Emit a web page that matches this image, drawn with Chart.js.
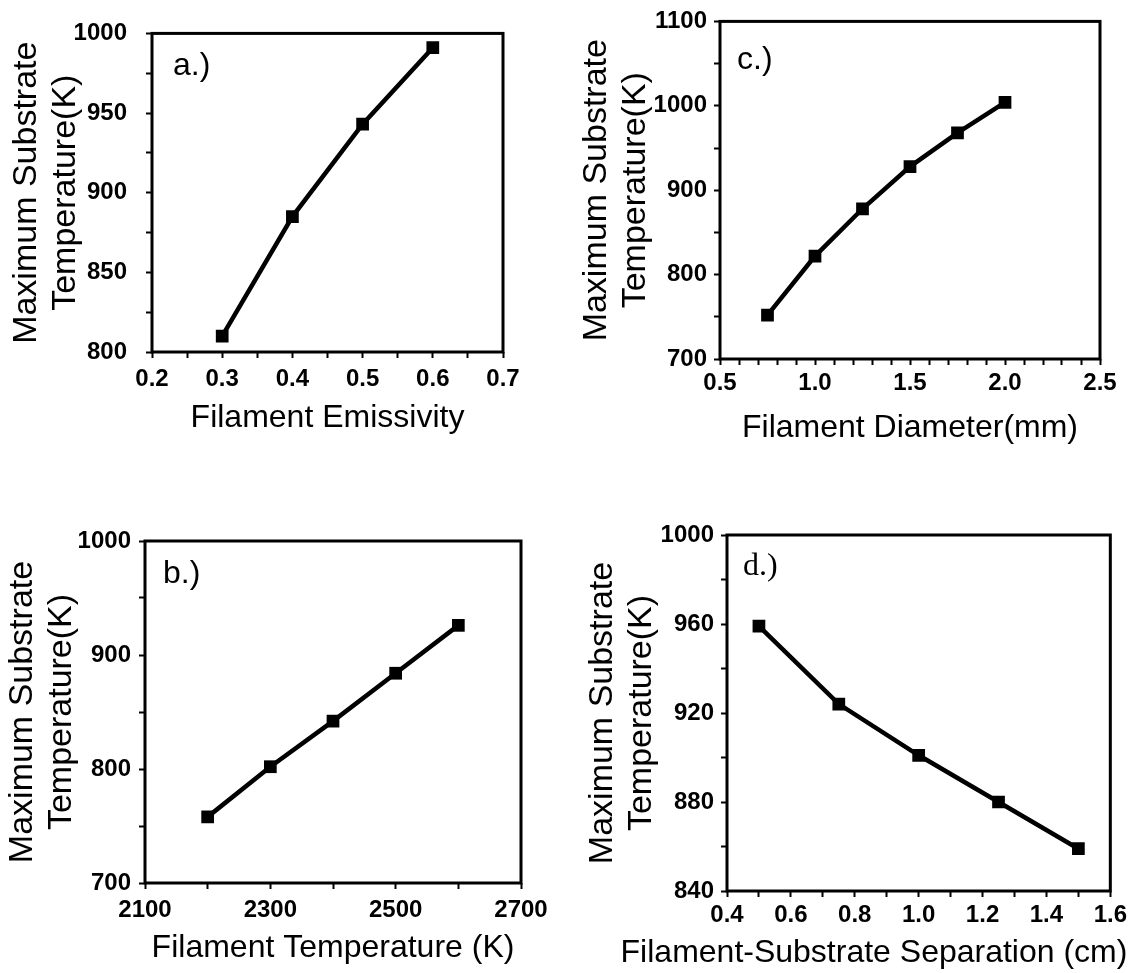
<!DOCTYPE html>
<html>
<head>
<meta charset="utf-8">
<script src="https://cdn.jsdelivr.net/npm/chart.js@4"></script>
<style>
  body { margin: 0; background: #fff; width: 1131px; height: 973px; position: relative; overflow: hidden; }
  canvas { position: absolute; }
</style>
</head>
<body>
<canvas id="panelA" width="560" height="470" style="left:0;top:0"></canvas>
<canvas id="panelC" width="561" height="470" style="left:570px;top:0"></canvas>
<canvas id="panelB" width="560" height="493" style="left:0;top:480px"></canvas>
<canvas id="panelD" width="561" height="493" style="left:570px;top:480px"></canvas>
<script>
// a.) emissivity
const emissivity = [0.3, 0.4, 0.5, 0.6];
const tempByEmissivity = [810, 885, 943, 991];
const emissivityTicks = [0.2, 0.3, 0.4, 0.5, 0.6, 0.7];
const tempTicksA = [800, 850, 900, 950, 1000];

// c.) diameter
const diameter = [0.75, 1.0, 1.25, 1.5, 1.75, 2.0];
const tempByDiameter = [752, 822, 878, 928, 968, 1004];
const diameterTicks = [0.5, 1.0, 1.5, 2.0, 2.5];
const tempTicksC = [700, 800, 900, 1000, 1100];

// b.) filament temperature
const filamentTemp = [2200, 2300, 2400, 2500, 2600];
const tempByFilamentTemp = [758, 802, 842, 884, 926];
const filamentTempTicks = [2100, 2300, 2500, 2700];
const tempTicksB = [700, 800, 900, 1000];

// d.) separation
const separation = [0.5, 0.75, 1.0, 1.25, 1.5];
const tempBySeparation = [959, 924, 901, 880, 859];
const separationTicks = [0.4, 0.6, 0.8, 1.0, 1.2, 1.4, 1.6];
const tempTicksD = [840, 880, 920, 960, 1000];

const yTitle = ["Maximum Substrate", "Temperature(K)"];

const SANS = '"Liberation Sans", Arial, Helvetica, sans-serif';
Chart.defaults.font.family = SANS;
Chart.defaults.color = "#000";

const TICK_LEN = 6;
const XTITLE_SIZE = 32;
const YTITLE_SIZE = 34;

function withMinor(majors, n) {
  const step = (majors[1] - majors[0]) / n;
  const count = Math.round((majors[majors.length - 1] - majors[0]) / step);
  const out = [];
  for (let i = 0; i <= count; i++) out.push(+(majors[0] + i * step).toFixed(6));
  return out;
}

function axisTicks(majors, minorN, dec) {
  const all = withMinor(majors, minorN);
  return {
    build: (scale) => { scale.ticks = all.map(v => ({ value: v })); },
    label: (v) => majors.some(m => Math.abs(m - v) < 1e-6) ? Number(v).toFixed(dec) : "",
  };
}

function makePanel(id, p) {
  const canvas = document.getElementById(id);
  const w = canvas.width, h = canvas.height;
  const xt = axisTicks(p.xMajor, p.xMinor, p.xDec);
  const yt = axisTicks(p.yMajor, p.yMinor, 0);
  const manualTitle = p.xTitleX !== undefined;

  const framePlugin = {
    id: "frame",
    afterDraw(chart) {
      const { ctx, chartArea: a } = chart;
      ctx.save();
      ctx.strokeStyle = "#000";
      ctx.lineWidth = 3;
      ctx.strokeRect(a.left, a.top, a.right - a.left, a.bottom - a.top);
      ctx.fillStyle = "#000";
      ctx.font = p.tagFont;
      ctx.textBaseline = "alphabetic";
      ctx.fillText(p.tag, a.left + p.tagDx, a.top + p.tagDy);
      if (manualTitle) {
        // title wider than the plot: Chart.js would squeeze it
        ctx.font = XTITLE_SIZE + "px " + SANS;
        ctx.textAlign = "center";
        ctx.textBaseline = "middle";
        ctx.fillText(p.xTitle, p.xTitleX, p.xTitleY);
      }
      ctx.restore();
    },
  };

  new Chart(canvas, {
    type: "scatter",
    data: {
      datasets: [{
        data: p.xs.map((x, i) => ({ x, y: p.ys[i] })),
        showLine: true,
        borderColor: "#000",
        borderWidth: 4.5,
        pointStyle: "rect",
        pointRadius: 9,
        pointBackgroundColor: "#000",
        pointBorderWidth: 0,
        tension: 0,
      }],
    },
    options: {
      responsive: false,
      animation: false,
      devicePixelRatio: 1,
      layout: { autoPadding: false, padding: { left: 0, top: p.area.top, right: w - p.area.right, bottom: 0 } },
      plugins: { legend: { display: false }, tooltip: { enabled: false } },
      scales: {
        x: {
          type: "linear",
          min: p.xMajor[0],
          max: p.xMajor[p.xMajor.length - 1],
          afterBuildTicks: xt.build,
          afterFit: (s) => { s.height = h - p.area.bottom; },
          border: { display: false },
          grid: { drawOnChartArea: false, drawTicks: true, tickLength: TICK_LEN, tickWidth: 2, tickColor: "#000" },
          ticks: { autoSkip: false, maxRotation: 0, padding: p.xPad, font: { size: 24, weight: "bold" }, callback: xt.label },
          title: {
            display: !manualTitle, text: p.xTitle,
            font: { size: XTITLE_SIZE, lineHeight: 1.2 },
            padding: { top: 0, bottom: (h - p.xTitleY) - XTITLE_SIZE * 0.6 },
          },
        },
        y: {
          type: "linear",
          min: p.yMajor[0],
          max: p.yMajor[p.yMajor.length - 1],
          afterBuildTicks: yt.build,
          afterFit: (s) => { s.width = p.area.left; },
          border: { display: false },
          grid: { drawOnChartArea: false, drawTicks: true, tickLength: TICK_LEN, tickWidth: 2, tickColor: "#000" },
          ticks: { autoSkip: false, padding: p.yPad, font: { size: 24, weight: "bold" }, callback: yt.label },
          title: {
            display: true, text: yTitle,
            font: { size: YTITLE_SIZE, lineHeight: 1.15 },
            padding: { top: p.yTitleX - YTITLE_SIZE * 0.575, bottom: 0 },
          },
        },
      },
    },
    plugins: [framePlugin],
  });
}

const sansTag = "32px " + SANS;

makePanel("panelA", {
  xs: emissivity, ys: tempByEmissivity,
  xMajor: emissivityTicks, xMinor: 2, xDec: 1,
  yMajor: tempTicksA, yMinor: 2,
  xTitle: "Filament Emissivity",
  area: { left: 152, top: 15, right: 503, bottom: 352 },
  xPad: 7, yPad: 19, xTitleY: 418, yTitleX: 27,
  tag: "a.)", tagFont: sansTag, tagDx: 21, tagDy: 42,
});

makePanel("panelC", {
  xs: diameter, ys: tempByDiameter,
  xMajor: diameterTicks, xMinor: 5, xDec: 1,
  yMajor: tempTicksC, yMinor: 2,
  xTitle: "Filament Diameter(mm)",
  area: { left: 150, top: 15, right: 530, bottom: 359 },
  xPad: 4, yPad: 7, xTitleY: 428, yTitleX: 27,
  tag: "c.)", tagFont: sansTag, tagDx: 17, tagDy: 48,
});

makePanel("panelB", {
  xs: filamentTemp, ys: tempByFilamentTemp,
  xMajor: filamentTempTicks, xMinor: 2, xDec: 0,
  yMajor: tempTicksB, yMinor: 2,
  xTitle: "Filament Temperature (K)",
  area: { left: 145, top: 61, right: 521, bottom: 403 },
  xPad: 7, yPad: 8, xTitleY: 468, yTitleX: 23,
  tag: "b.)", tagFont: sansTag, tagDx: 18, tagDy: 42,
});

makePanel("panelD", {
  xs: separation, ys: tempBySeparation,
  xMajor: separationTicks, xMinor: 2, xDec: 1,
  yMajor: tempTicksD, yMinor: 2,
  xTitle: "Filament-Substrate Separation (cm)",
  area: { left: 157, top: 55, right: 547, bottom: 411 },
  xPad: 4, yPad: 7, xTitleY: 473, yTitleX: 33, xTitleX: 304,
  tag: "d.)", tagFont: '32px "Liberation Serif", "Times New Roman", serif', tagDx: 16, tagDy: 40,
});
</script>
</body>
</html>
